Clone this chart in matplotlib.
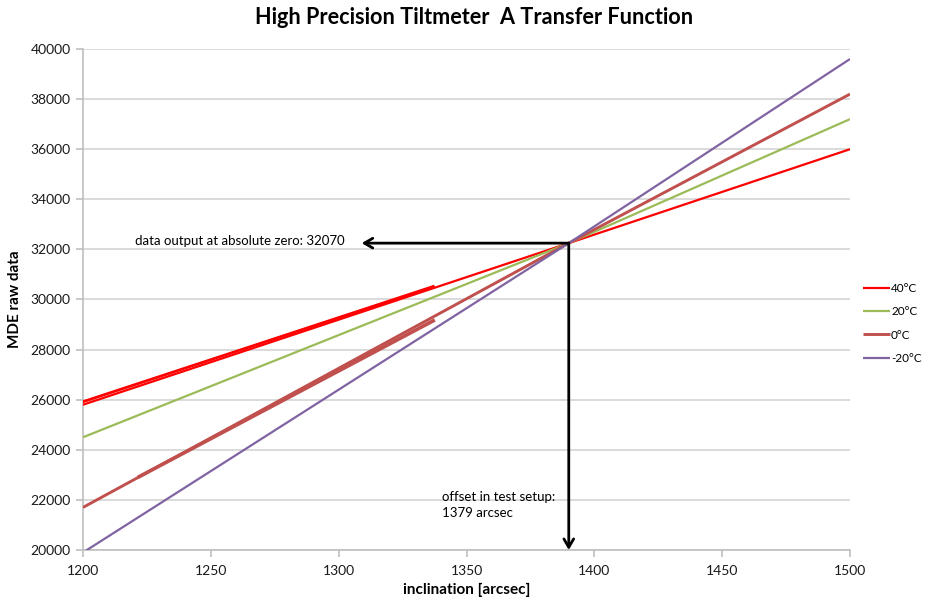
import matplotlib
matplotlib.use("Agg")
import matplotlib.pyplot as plt

plt.rcParams['font.family'] = ['Lato', 'DejaVu Sans']

# Data
x_pts = [1200, 1390, 1500]
t40 = [25800, 32250, 36000]
t20 = [24500, 32250, 37200]
t0 = [21700, 32250, 38200]
tm20 = [19900, 32250, 39600]

# overlapping measurement segments
x40_seg = [1200, 1337]
t40_seg = [25920, 30520]
x0_seg = [1222, 1337]
t0_seg = [22930, 29150]

labels = ["40°C", "20°C", "0°C", "-20°C"]
colors = ["#FF0000", "#9BBB59", "#C0504D", "#8064A2"]

zero_x = 1390
zero_y = 32250
arrow_left_x = 1309

fig = plt.figure(figsize=(9.28, 6.04), dpi=100)
ax = fig.add_axes([83/928, 1-550/604, (850-83)/928, (550-49)/604])

series = [t40, t20, t0, tm20]
widths = [1.6, 1.6, 2.1, 1.6]
handles = []
for vals, lab, c, w in zip(series, labels, colors, widths):
    h, = ax.plot(x_pts, vals, color=c, lw=w, label=lab, solid_capstyle='butt', zorder=3)
    handles.append(h)
ax.plot(x40_seg, t40_seg, color=colors[0], lw=2.0, zorder=3)
ax.plot(x0_seg, t0_seg, color=colors[2], lw=2.6, zorder=3)

ax.set_xlim(1200, 1500)
ax.set_ylim(20000, 40000)
ax.set_xticks(range(1200, 1501, 50))
ax.set_yticks(range(20000, 40001, 2000))
ax.grid(axis='y', color='#D4D4D4', lw=1.2)
ax.set_axisbelow(True)
for s in ['top', 'right']:
    ax.spines[s].set_visible(False)
for s in ['left', 'bottom']:
    ax.spines[s].set_color('#BFBFBF')
    ax.spines[s].set_linewidth(1.2)
ax.tick_params(axis='both', direction='out', length=5, color='#BFBFBF', width=1.2,
               labelsize=10, labelcolor='#1a1a1a')
ax.tick_params(axis='x', pad=6)
ax.tick_params(axis='y', pad=4)

ax.set_xlabel("inclination [arcsec]", fontsize=11, fontweight='bold', labelpad=4)
ax.set_ylabel("MDE raw data", fontsize=11, fontweight='bold', labelpad=6)
fig.text(0.511, 1-18/604, "High Precision Tiltmeter  A Transfer Function",
         fontsize=15.6, fontweight='bold', ha='center', va='center')

# arrows
ax.annotate("", xy=(arrow_left_x, zero_y), xytext=(zero_x, zero_y),
            arrowprops=dict(arrowstyle='->,head_length=0.6,head_width=0.35', lw=2, color='black',
                            shrinkA=0, shrinkB=0), zorder=4)
ax.annotate("", xy=(zero_x, 20000), xytext=(zero_x, zero_y),
            arrowprops=dict(arrowstyle='->,head_length=0.6,head_width=0.35', lw=2, color='black',
                            shrinkA=0, shrinkB=0), zorder=4, annotation_clip=False)

ax.text(1220.5, 32320, "data output at absolute zero: 32070", fontsize=9.5, ha='left', va='center')
ax.text(1340.5, 21800, "offset in test setup:\n1379 arcsec", fontsize=9.5, ha='left', va='center',
        linespacing=1.45)

fig.legend(handles=handles, labels=labels, loc='upper left',
           bbox_to_anchor=(858/928, 1-278/604), frameon=False, fontsize=8.5,
           handlelength=2.3, handletextpad=0.1, labelspacing=1.05, borderaxespad=0)

fig.savefig("out.png", dpi=100)
